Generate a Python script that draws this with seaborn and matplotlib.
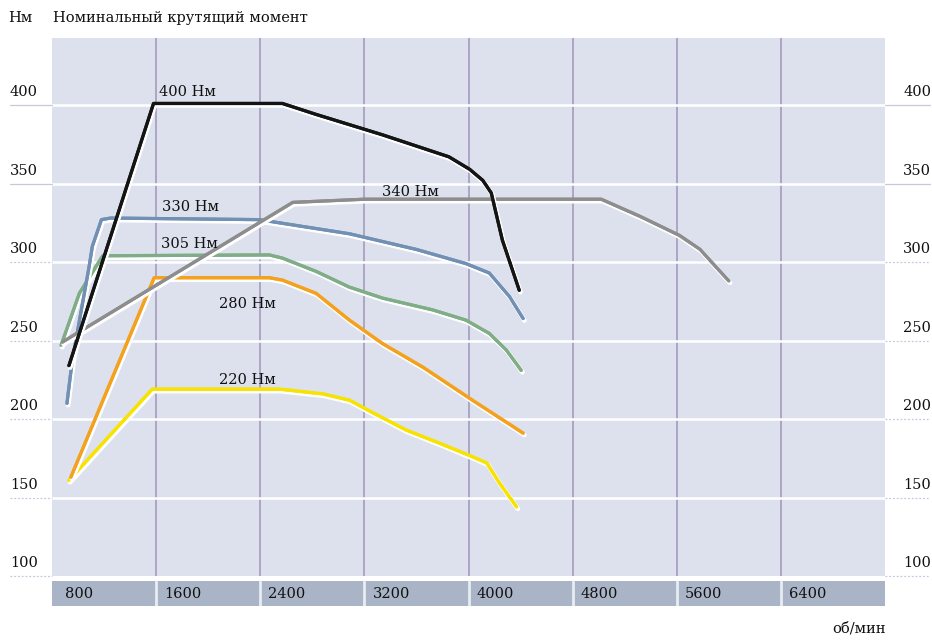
import matplotlib
matplotlib.use("Agg")
import matplotlib.pyplot as plt
import matplotlib.patheffects as pe
from matplotlib.transforms import blended_transform_factory, offset_copy
import pandas as pd
import seaborn as sns

# ---------------- data ----------------
rpm_ticks = [800, 1600, 2400, 3200, 4000, 4800, 5600, 6400]
torque_ticks = [100, 150, 200, 250, 300, 350, 400]

yellow_rpm = [930, 1570, 2550, 2880, 3085, 3265, 3520, 3780, 4030, 4140, 4240, 4370]
yellow_nm = [161, 219, 219, 216, 212, 204, 193, 184.5, 176, 172, 159, 144]

orange_rpm = [945, 1585, 2470, 2570, 2830, 3085, 3340, 3650, 4030, 4420]
orange_nm = [163, 290, 290, 288.5, 280, 263, 248, 233, 212, 191]

green_rpm = [870, 1010, 1190, 2470, 2570, 2830, 3085, 3340, 3725, 3980, 4160, 4290, 4405]
green_nm = [247, 280, 304, 304.5, 302.5, 294, 284, 277, 269.5, 263, 254.5, 244, 231]

blue_rpm = [915, 955, 1085, 1110, 1180, 1250, 2390, 3085, 3600, 3980, 4160, 4315, 4420]
blue_nm = [210, 237, 297, 310, 327, 328, 327, 318, 308, 299, 293, 278, 264]

gray_rpm = [880, 2650, 3200, 5020, 5320, 5620, 5780, 5900, 6000]
gray_nm = [249, 338, 340, 340, 329, 317, 308, 297, 288]

black_rpm = [930, 1580, 2570, 2830, 3340, 3850, 4010, 4110, 4175, 4260, 4390]
black_nm = [234, 401, 401, 394, 381, 367, 359, 352, 344, 314, 282]

series_names = ["220 Нм", "280 Нм", "305 Нм", "330 Нм", "340 Нм", "400 Нм"]
series_rpm = [yellow_rpm, orange_rpm, green_rpm, blue_rpm, gray_rpm, black_rpm]
series_nm = [yellow_nm, orange_nm, green_nm, blue_nm, gray_nm, black_nm]
series_colors = ["#f7e200", "#f4a11e", "#7fad86", "#7190b4", "#8d8d8d", "#141414"]

# label anchor positions (rpm, Nm)
label_rpm = [2085, 2085, 1638, 1644, 3338, 1623]
label_nm = [225, 273, 311.5, 335, 344.6, 408]

title_unit = "Нм"
title_text = "Номинальный крутящий момент"
x_unit = "об/мин"

# ---------------- style ----------------
sns.set_theme(style="white")
plt.rcParams["font.family"] = ["DejaVu Serif", "DejaVu Sans"]

W, H = 932, 641
fig = plt.figure(figsize=(W / 100, H / 100), dpi=100)
fig.patch.set_facecolor("white")

ax = fig.add_axes([52 / W, (H - 576) / H, 833 / W, 538 / H])
ax.set_xlim(800, 7200)
ax.set_ylim(100, 442.7)
ax.set_facecolor("#dce1ed")
for s in ax.spines.values():
    s.set_visible(False)
ax.set_xticks([])
ax.set_yticks([])

# vertical grid lines
for t in rpm_ticks[1:]:
    ax.axvline(t, color="#aca5c4", lw=1.4, zorder=1)
# horizontal white lines
for t in torque_ticks[1:]:
    ax.axhline(t, color="white", lw=1.8, zorder=1.5)

# curves
fs = 10.5
for name, xr, yn, c in zip(series_names, series_rpm, series_nm, series_colors):
    df = pd.DataFrame({"rpm": xr, "nm": yn})
    sns.lineplot(data=df, x="rpm", y="nm", ax=ax, color=c, lw=2.3, sort=False,
                 estimator=None, zorder=3,
                 path_effects=[pe.Stroke(linewidth=3.4, foreground="white", offset=(0.9, -1.4)),
                               pe.Stroke(linewidth=2.3, foreground=c), pe.Normal()])
ax.set_xlabel("")
ax.set_ylabel("")

for name, lx, ly in zip(series_names, label_rpm, label_nm):
    ax.text(lx, ly, name, ha="left", va="center", fontsize=fs, color="#111111", zorder=5)

# y labels and short tick lines on both sides
trans_l = blended_transform_factory(fig.transFigure, ax.transData)
tr_lab = offset_copy(trans_l, fig=fig, x=0, y=13, units="dots")
for t in torque_ticks:
    fig.text(10 / W, t, str(t), transform=tr_lab, ha="left", va="center", fontsize=fs, color="#111111")
    fig.text(903 / W, t, str(t), transform=tr_lab, ha="left", va="center", fontsize=fs, color="#111111")
    ls = "-" if t >= 350 else (0, (1.5, 1.5))
    ax.plot([10 / W, 52 / W], [t, t], transform=trans_l, color="#cbc5de", lw=0.9, ls=ls, clip_on=False)
    ax.plot([885 / W, 930 / W], [t, t], transform=trans_l, color="#cbc5de", lw=0.9, ls=ls, clip_on=False)

# x band
bax = fig.add_axes([52 / W, (H - 606) / H, 833 / W, 25 / H])
bax.set_xlim(800, 7200)
bax.set_ylim(0, 1)
bax.set_facecolor("#a9b5c7")
for s in bax.spines.values():
    s.set_visible(False)
bax.set_xticks([])
bax.set_yticks([])
for t in rpm_ticks[1:]:
    bax.axvline(t, color="#e8ecf3", lw=2.0)
btr = blended_transform_factory(bax.transData, bax.transAxes)
for i, t in enumerate(rpm_ticks):
    dx = 13 if i == 0 else 8
    bax.text(t, 0.5, str(t), transform=offset_copy(btr, fig=fig, x=dx, y=-1, units="dots"),
             ha="left", va="center", fontsize=fs, color="#111111")

# header / axis unit texts
fig.text(8 / W, 1 - 18 / H, title_unit, ha="left", va="center", fontsize=fs, color="#111111")
fig.text(53 / W, 1 - 18 / H, title_text, ha="left", va="center", fontsize=fs, color="#111111")
fig.text(886 / W, 1 - 629 / H, x_unit, ha="right", va="center", fontsize=fs, color="#111111")

fig.savefig("out.png", dpi=100)
